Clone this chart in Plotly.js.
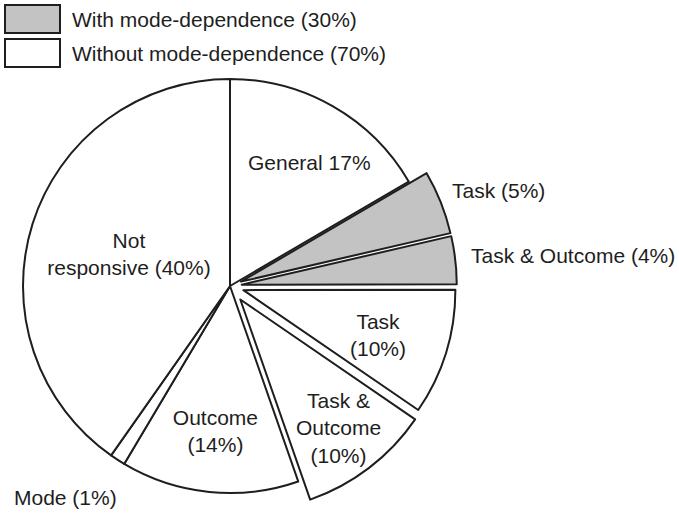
<!DOCTYPE html>
<html>
<head>
<meta charset="utf-8">
<script src="https://cdn.plot.ly/plotly-3.0.1.min.js"></script>
<style>html,body{margin:0;padding:0;background:#fff;}#chart{width:679px;height:515px;}</style>
</head>
<body>
<div id="chart"></div>
<script>
// ---- data (shares; labels as printed) ----
var sliceIds = ['General', 'Task (mode-dependent)', 'Task & Outcome (mode-dependent)', 'Task', 'Task & Outcome', 'Outcome', 'Mode', 'Not responsive'];
var sliceText = ['General 17%', 'Task (5%)', 'Task & Outcome (4%)', 'Task<br>(10%)', 'Task &<br>Outcome<br>(10%)', 'Outcome<br>(14%)', 'Mode (1%)', 'Not<br>responsive (40%)'];
var values = [16.6, 4.8, 3.6, 9.6, 10.1, 13.9, 1.2, 40.3];
var modeDependent = [false, true, true, false, false, false, false, false];
var legendLabels = ['With mode-dependence (30%)', 'Without mode-dependence (70%)'];

// ---- styles ----
var W = 679, H = 515;
var GREY = '#c3c3c3', INK = '#1e1e1e', CLEAR = 'rgba(0,0,0,0)';
// layer: 0 = flat white slices, 1 = exploded white slices, 2 = exploded grey slices
var layerOf = [0, 2, 2, 1, 1, 0, 0, 0];
var layerRadius = [207, 212, 215];
var pullAmt = [0, 0.055, 0.055, 0.066, 0.08, 0, 0, 0];
// label placements (px) for labels not placed by the pie itself
var placedLabels = {
  0: {x: 309, y: 162, anchor: 'center'},
  1: {x: 450, y: 190, anchor: 'left'},
  2: {x: 469, y: 255, anchor: 'left'},
  3: {x: 378, y: 335, anchor: 'center'},
  6: {x: 12, y: 497, anchor: 'left'}
};
var font = {family: 'Liberation Sans, Arial, sans-serif', size: 21, color: INK};
var cx = 230, cy = 286;

function px2dom(half) {
  return {x: [Math.max(0, (cx - half) / W), (cx + half) / W], y: [Math.max(0, (H - cy - half) / H), (H - cy + half) / H]};
}

function mkTrace(layer) {
  var inL = function (i) { return layerOf[i] === layer; };
  var pulls = pullAmt.map(function (p, i) { return inL(i) ? p : 0; });
  var maxPull = Math.max.apply(null, pulls);
  var half = layerRadius[layer] * (1 + maxPull);
  return {
    type: 'pie',
    labels: sliceIds,
    values: values,
    text: sliceText,
    texttemplate: '%{text}',
    sort: false,
    direction: 'clockwise',
    rotation: 0,
    pull: pulls,
    marker: {
      colors: sliceIds.map(function (s, i) {
        if (!inL(i)) return CLEAR;
        return modeDependent[i] ? GREY : '#ffffff';
      }),
      line: {
        color: sliceIds.map(function (s, i) { return inL(i) ? INK : CLEAR; }),
        width: sliceIds.map(function (s, i) { return inL(i) ? 2 : 0; })
      }
    },
    textposition: sliceIds.map(function (s, i) {
      return (inL(i) && !placedLabels[i]) ? 'inside' : 'none';
    }),
    insidetextorientation: 'horizontal',
    textfont: font,
    insidetextfont: font,
    domain: px2dom(half),
    showlegend: false,
    hoverinfo: 'skip'
  };
}

var traces = [mkTrace(0), mkTrace(1), mkTrace(2)];

var shapes = [], annotations = [];
Object.keys(placedLabels).forEach(function (k) {
  var p = placedLabels[k];
  annotations.push({
    xref: 'paper', yref: 'paper', x: p.x / W, y: 1 - p.y / H,
    xanchor: p.anchor, yanchor: 'middle', align: 'center', showarrow: false,
    text: sliceText[+k], font: font
  });
});

// legend drawn as boxes + text
var legendFill = [GREY, '#ffffff'];
var boxTop = [5, 39], boxH = 28;
legendLabels.forEach(function (lab, i) {
  shapes.push({
    type: 'rect', xref: 'paper', yref: 'paper',
    x0: 5 / W, x1: 60 / W, y0: 1 - boxTop[i] / H, y1: 1 - (boxTop[i] + boxH) / H,
    fillcolor: legendFill[i], line: {color: INK, width: 2}
  });
  annotations.push({
    xref: 'paper', yref: 'paper', x: 70 / W, y: 1 - (boxTop[i] + boxH / 2) / H,
    xanchor: 'left', yanchor: 'middle', showarrow: false, text: lab, font: font
  });
});

var layout = {
  width: W, height: H,
  margin: {l: 0, r: 0, t: 0, b: 0},
  paper_bgcolor: '#ffffff',
  uniformtext: {mode: 'show', minsize: 21},
  shapes: shapes,
  annotations: annotations,
  showlegend: false
};

Plotly.newPlot('chart', traces, layout, {displayModeBar: false, staticPlot: true});
</script>
</body>
</html>
